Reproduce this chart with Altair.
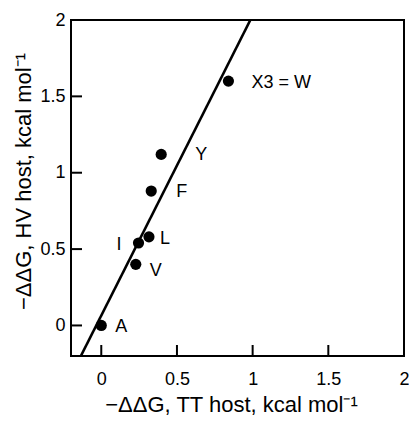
import altair as alt
import pandas as pd

# Data
names = ["A", "V", "I", "L", "F", "Y", "W"]
labels = ["A", "V", "I", "L", "F", "Y", "X3 = W"]
tt_host = [0.0, 0.228, 0.246, 0.315, 0.33, 0.396, 0.84]
hv_host = [0.0, 0.40, 0.54, 0.58, 0.88, 1.12, 1.60]

fit_x = [-0.135, 0.985]
fit_y = [-0.2, 2.0]

x_ticks = [0, 0.5, 1, 1.5, 2]
y_ticks = [0, 0.5, 1, 1.5, 2]

# label offsets (px) : dx, dy, align
label_style = {
    "A": (14, 2, "left"),
    "V": (14, 7, "left"),
    "I": (-17, 2, "right"),
    "L": (11, 2, "left"),
    "F": (25, 1, "left"),
    "Y": (34, 1, "left"),
    "W": (23, 2, "left"),
}

W_PLOT, H_PLOT, TICK_LEN = 333, 336, 11

pts = pd.DataFrame({"name": names, "label": labels, "tt": tt_host, "hv": hv_host})
fit = pd.DataFrame({"tt": fit_x, "hv": fit_y})
xt = pd.DataFrame({"v": x_ticks})
yt = pd.DataFrame({"v": y_ticks})

FONT = "Liberation Sans"

xscale = alt.Scale(domain=[-0.2, 2], nice=False, zero=False)
yscale = alt.Scale(domain=[-0.2, 2], nice=False, zero=False)

xaxis = alt.Axis(
    title="\u2212\u0394\u0394G, TT host, kcal mol\u207b\u00b9",
    values=x_ticks, format="~g", grid=False, domain=False, ticks=False,
    labelPadding=14, labelFontSize=18, labelFont=FONT, labelColor="black",
    titleFontSize=22, titleFont=FONT, titleFontWeight="normal", titleColor="black",
    titlePadding=6, titleX=160, labelFlush=False,
)
yaxis = alt.Axis(
    title="\u2212\u0394\u0394G, HV host, kcal mol\u207b\u00b9",
    values=y_ticks, format="~g", grid=False, domain=False, ticks=False,
    labelPadding=6, labelFontSize=18, labelFont=FONT, labelColor="black",
    titleFontSize=22, titleFont=FONT, titleFontWeight="normal", titleColor="black",
    titlePadding=4, titleY=161, labelFlush=False,
)

base_pts = alt.Chart(pts)

line = alt.Chart(fit).mark_line(color="black", strokeWidth=2.6, clip=True).encode(
    x=alt.X("tt:Q", scale=xscale, axis=xaxis),
    y=alt.Y("hv:Q", scale=yscale, axis=yaxis),
)

# inward tick marks along the frame
xtick_marks = alt.Chart(xt).mark_rule(color="black", strokeWidth=2).encode(
    x=alt.X("v:Q", scale=xscale),
    y=alt.value(H_PLOT - TICK_LEN),
    y2=alt.value(H_PLOT),
)
ytick_marks = alt.Chart(yt).mark_rule(color="black", strokeWidth=2).encode(
    y=alt.Y("v:Q", scale=yscale),
    x=alt.value(0),
    x2=alt.value(TICK_LEN),
)

points = base_pts.mark_circle(size=125, color="black", opacity=1).encode(
    x=alt.X("tt:Q", scale=xscale),
    y=alt.Y("hv:Q", scale=yscale),
)

text_layers = []
for n, (dx, dy, al) in label_style.items():
    text_layers.append(
        base_pts.transform_filter(alt.datum.name == n)
        .mark_text(dx=dx, dy=dy, align=al, baseline="middle",
                   fontSize=18, font=FONT, color="black")
        .encode(x=alt.X("tt:Q", scale=xscale), y=alt.Y("hv:Q", scale=yscale),
                text="label:N")
    )

chart = alt.layer(line, xtick_marks, ytick_marks, points, *text_layers).properties(
    width=W_PLOT, height=H_PLOT, background="white",
    autosize=alt.AutoSizeParams(type="none"),
    padding={"left": 63, "top": 12, "right": 5, "bottom": 60},
).configure_view(stroke="black", strokeWidth=2)

chart.save("out.html", embed_options={"renderer": "svg", "actions": False})
